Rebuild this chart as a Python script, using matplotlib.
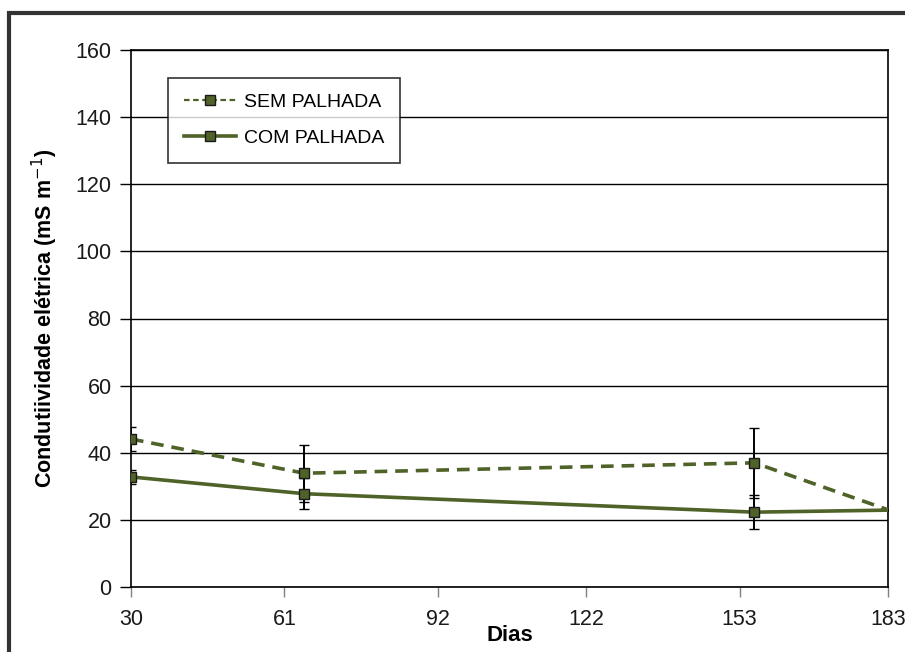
import matplotlib
matplotlib.use("Agg")
import matplotlib.pyplot as plt
from matplotlib.patches import Rectangle
from matplotlib.lines import Line2D

plt.rcParams['font.family'] = ['Liberation Sans', 'DejaVu Sans']

days_sem = [30, 65, 156, 183]
sem_vals = [44.1, 33.9, 37.0, 23.0]
sem_err = [3.6, 8.5, 10.5, 0.0]

days_com = [30, 65, 156, 183]
com_vals = [32.8, 27.8, 22.3, 22.9]
com_err = [2.0, 4.7, 5.0, 0.0]

xticks = [30, 61, 92, 122, 153, 183]
yticks = [0, 20, 40, 60, 80, 100, 120, 140, 160]

W, H = 905, 652
fig = plt.figure(figsize=(W/100, H/100), dpi=100)
ax = fig.add_axes([131/W, 1-587/H, (888-131)/W, (587-50)/H])

col = '#4f6228'
common = dict(color=col, lw=2.6, marker='s', ms=7.8, mfc=col, mec='#1a1a1a', mew=1.0,
              ecolor='black', elinewidth=1.4, capsize=3.3, capthick=1.4,
              markevery=[0, 1, 2], zorder=3)
ax.errorbar(days_sem, sem_vals, yerr=sem_err, ls=(0, (3.5, 2.2)), **common)
ax.errorbar(days_com, com_vals, yerr=com_err, ls='-', **common)

ax.set_xlim(30, 183)
ax.set_ylim(0, 160)
ax.set_xticks(xticks)
ax.set_yticks(yticks)
ax.yaxis.grid(True, color='black', lw=1.0)
ax.set_axisbelow(True)
for s in ax.spines.values():
    s.set_color('black')
    s.set_linewidth(1.2)
ax.tick_params(axis='y', direction='out', length=8, width=1.0, labelsize=15.5, pad=6)
ax.tick_params(axis='x', direction='out', length=7, width=1.0, color='#808080',
               labelsize=15.5, pad=9)
for lab in ax.get_xticklabels() + ax.get_yticklabels():
    lab.set_color('#1a1a1a')

ax.set_xlabel('Dias', fontsize=16, fontweight='bold', labelpad=-4)
ax.set_ylabel('Condutiividade elétrica (mS m$^{-1}$)', fontsize=15.5, fontweight='bold',
              labelpad=11)

handles = [
    Line2D([], [], color=col, ls=(0, (2.5, 1.6)), lw=1.6, marker='s', ms=6.5,
           mfc=col, mec='#1a1a1a', mew=1.0),
    Line2D([], [], color=col, ls='-', lw=2.6, marker='s', ms=6.5,
           mfc=col, mec='#1a1a1a', mew=1.0),
]
leg = ax.legend(handles, ['SEM PALHADA', 'COM PALHADA'], loc='upper left',
                bbox_to_anchor=((168-131)/(888-131), 1-(78-50)/(587-50)),
                fontsize=14, frameon=True, fancybox=False, edgecolor='black',
                borderpad=0.8, labelspacing=0.95, handlelength=2.7, handletextpad=0.4,
                borderaxespad=0)
leg.get_frame().set_linewidth(1.2)

# outer chart frame
fig.patches.append(Rectangle((9/W, -0.1), 1.2, (1-13/H)+0.1, transform=fig.transFigure,
                             fill=False, edgecolor='#333333', lw=3.0, zorder=0))

fig.savefig('out.png', dpi=100)
